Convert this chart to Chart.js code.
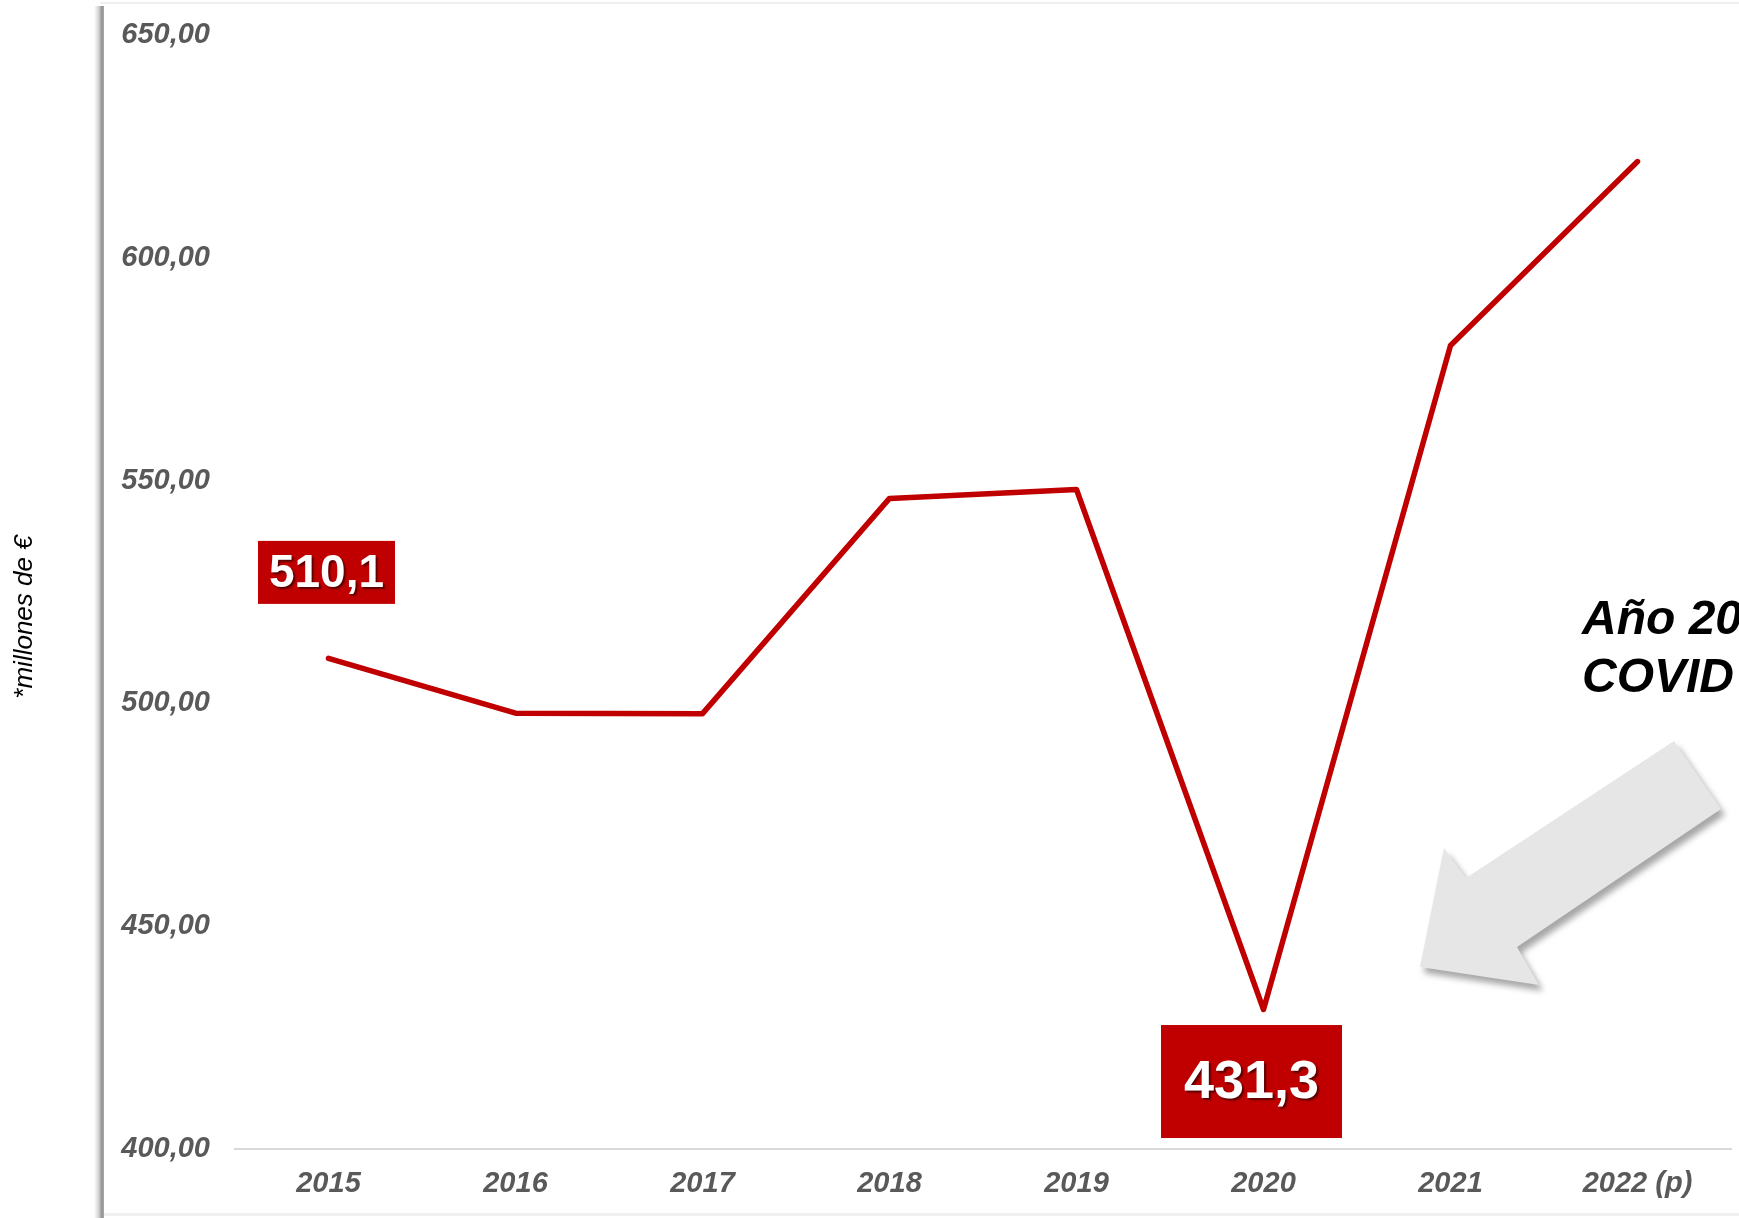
<!DOCTYPE html>
<html lang="es">
<head>
<meta charset="UTF-8">
<title>Cifra de negocio</title>
<script src="https://cdn.jsdelivr.net/npm/chart.js@4.4.0/dist/chart.umd.min.js"></script>
<style>
  html, body { margin: 0; padding: 0; background: #fff; overflow: hidden; }
  #wrap { width: 1739px; height: 1218px; }
</style>
</head>
<body>
<div id="wrap"><canvas id="myCanvas" width="1739" height="1218"></canvas></div>
<script>
// datos
var years = ['2015', '2016', '2017', '2018', '2019', '2020', '2021', '2022 (p)'];
var values = [510.1, 497.8, 497.7, 546.0, 548.0, 431.3, 580.3, 621.6];
var yTicks = [400, 450, 500, 550, 600, 650];
var labelled = [0, 5];   // puntos con etiqueta roja
var yTitle = '*millones de €';
var note = ['Año 2020', 'COVID'];

var FONT = "'Liberation Sans', Arial, sans-serif";
var RED = '#C00000';

function coma(v, d) { return v.toFixed(d).replace('.', ','); }

// marco, titulo del eje, flecha y texto
var decor = {
  id: 'decor',
  beforeDraw: function(chart) {
    var c = chart.ctx;
    c.save();
    // borde superior e inferior suaves
    c.fillStyle = '#f0f0f0';
    c.fillRect(100, 2, 1639, 2);
    c.fillRect(100, 1213, 1639, 3);
    // barra izquierda con sombra
    var g = c.createLinearGradient(94, 0, 104, 0);
    g.addColorStop(0, 'rgba(170,170,170,0)');
    g.addColorStop(0.5, 'rgba(160,160,160,0.5)');
    g.addColorStop(0.75, 'rgba(150,150,150,1)');
    g.addColorStop(1, 'rgba(165,165,165,1)');
    c.fillStyle = g;
    c.fillRect(94, 6, 10, 1212);
    c.restore();

    // titulo vertical
    c.save();
    c.translate(25, 617);
    c.rotate(-Math.PI / 2);
    c.font = 'italic 26px ' + FONT;
    c.fillStyle = '#000';
    c.textAlign = 'center';
    c.textBaseline = 'middle';
    c.fillText(yTitle, 0, 0);
    c.restore();
  },
  afterDatasetsDraw: function(chart) {
    var c = chart.ctx;
    var meta = chart.getDatasetMeta(0);

    // etiquetas rojas
    labelled.forEach(function(i, k) {
      var p = meta.data[i];
      var big = k === 1;
      var w = big ? 181 : 137, h = big ? 113 : 63;
      var cx = big ? p.x - 12 : p.x - 2;
      var cy = big ? p.y + 72 : p.y - 86;
      c.save();
      c.fillStyle = RED;
      c.fillRect(cx - w / 2, cy - h / 2, w, h);
      c.font = 'bold ' + (big ? 54 : 46) + 'px ' + FONT;
      c.textAlign = 'center';
      c.textBaseline = 'middle';
      c.shadowColor = 'rgba(0,0,0,0.55)';
      c.shadowOffsetX = 2;
      c.shadowOffsetY = 2;
      c.shadowBlur = 2;
      c.fillStyle = '#fff';
      c.fillText(coma(values[i], 1), cx, cy + 2);
      c.restore();
    });

    // flecha gris
    c.save();
    c.shadowColor = 'rgba(0,0,0,0.35)';
    c.shadowOffsetX = 4;
    c.shadowOffsetY = 6;
    c.shadowBlur = 6;
    c.fillStyle = '#e6e6e6';
    c.beginPath();
    c.moveTo(1420, 967);
    c.lineTo(1444, 848);
    c.lineTo(1466, 878);
    c.lineTo(1674, 741);
    c.lineTo(1721, 809);
    c.lineTo(1517, 947);
    c.lineTo(1539, 985);
    c.closePath();
    c.fill();
    c.restore();

    // texto COVID
    c.save();
    c.font = 'bold italic 48px ' + FONT;
    c.fillStyle = '#000';
    c.textAlign = 'left';
    c.textBaseline = 'alphabetic';
    c.fillText(note[0], 1582, 634);
    c.fillText(note[1], 1582, 692);
    c.restore();
  }
};

var ctx = document.getElementById('myCanvas').getContext('2d');
var myChart = new Chart(ctx, {
  type: 'line',
  data: {
    labels: years,
    datasets: [{
      data: values,
      borderColor: RED,
      borderWidth: 5.5,
      borderCapStyle: 'round',
      borderJoinStyle: 'round',
      pointRadius: 0,
      tension: 0,
      fill: false
    }]
  },
  options: {
    responsive: false,
    animation: false,
    devicePixelRatio: 1,
    layout: { padding: { top: 35, right: 8, left: 0, bottom: 0 } },
    plugins: { legend: { display: false }, tooltip: { enabled: false } },
    scales: {
      x: {
        offset: true,
        grid: { display: false, drawTicks: false },
        border: { display: true, color: '#d9d9d9', width: 2 },
        ticks: {
          padding: 18,
          color: '#595959',
          font: { family: FONT, size: 29, style: 'italic', weight: 'bold' },
          maxRotation: 0
        },
        afterFit: function(s) { s.height = 69; }
      },
      y: {
        min: yTicks[0],
        max: yTicks[yTicks.length - 1],
        grid: { display: false, drawTicks: false },
        border: { display: false },
        afterBuildTicks: function(s) { s.ticks = yTicks.map(function(v) { return { value: v }; }); },
        ticks: {
          padding: 25,
          color: '#595959',
          font: { family: FONT, size: 29, style: 'italic', weight: 'bold' },
          callback: function(v) { return coma(v, 2); }
        },
        afterFit: function(s) {
          s.width = 235;
          s.paddingTop = 0;
          s.paddingBottom = 0;
        }
      }
    }
  },
  plugins: [decor]
});
</script>
</body>
</html>
